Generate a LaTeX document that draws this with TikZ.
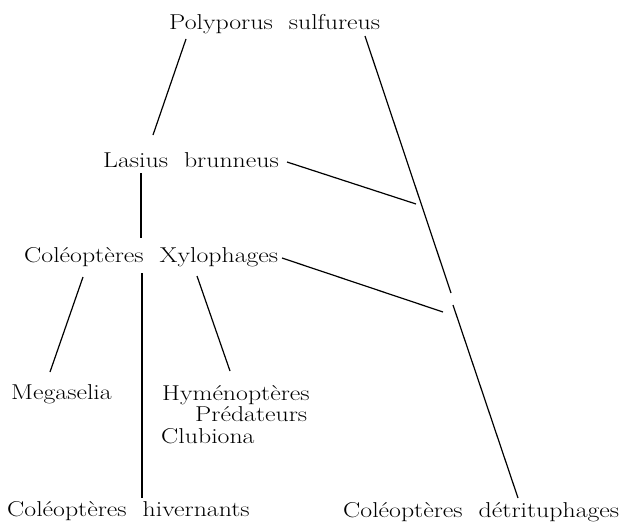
\documentclass[tikz,border=0pt]{standalone}
\usepackage{fontspec}
\setmainfont{Latin Modern Roman}[FakeStretch=1.2]
\newcommand{\wg}{\hspace{16pt}}
\begin{document}
\begin{tikzpicture}[
    x=1pt, y=-1pt,
    taxon/.style={inner sep=0pt, anchor=base west, font=\fontsize{21.5}{26}\selectfont},
    link/.style={line width=1.2pt}
]
    \useasboundingbox (0,0) rectangle (620,522);

    \node[taxon] (poly) at (169,29.5) {Polyporus\wg sulfureus};
    \node[taxon] (lasius) at (103,167.5) {Lasius\wg brunneus};
    \node[taxon] (xylo) at (24,262.5) {Coléoptères\wg Xylophages};
    \node[taxon] (mega) at (11,399.5) {Megaselia};
    \node[taxon] (hym) at (162,400) {Hyménoptères};
    \node[taxon] (pred) at (195,421.5) {Prédateurs};
    \node[taxon] (club) at (161,443) {Clubiona};
    \node[taxon] (hiv) at (7,516) {Coléoptères\wg hivernants};
    \node[taxon] (detr) at (343,517) {Coléoptères\wg détrituphages};

    % ends of the links
    \coordinate (polyL) at (186,39);
    \coordinate (polyR) at (365,36);
    \coordinate (lasiusT) at (153,135);
    \coordinate (lasiusR) at (287,162);
    \coordinate (lasiusB) at (141,173);
    \coordinate (xyloT) at (141,238);
    \coordinate (xyloR) at (282,258);
    \coordinate (xyloB) at (142,273);
    \coordinate (xyloBL) at (83,277);
    \coordinate (xyloBR) at (197,276);
    \coordinate (megaT) at (50,372);
    \coordinate (hymT) at (230,371);
    \coordinate (hivT) at (142,498);
    \coordinate (detrT) at (518,498);
    \coordinate (gapA) at (451,293);
    \coordinate (gapB) at (453,305);
    \coordinate (meetL) at (416,204);
    \coordinate (meetX) at (443,312);

    \draw[link] (polyL) -- (lasiusT);
    \draw[link] (polyR) -- (gapA);
    \draw[link] (gapB) -- (detrT);
    \draw[link] (lasiusR) -- (meetL);
    \draw[link] (lasiusB) -- (xyloT);
    \draw[link] (xyloR) -- (meetX);
    \draw[link] (xyloB) -- (hivT);
    \draw[link] (xyloBL) -- (megaT);
    \draw[link] (xyloBR) -- (hymT);
\end{tikzpicture}
\end{document}
